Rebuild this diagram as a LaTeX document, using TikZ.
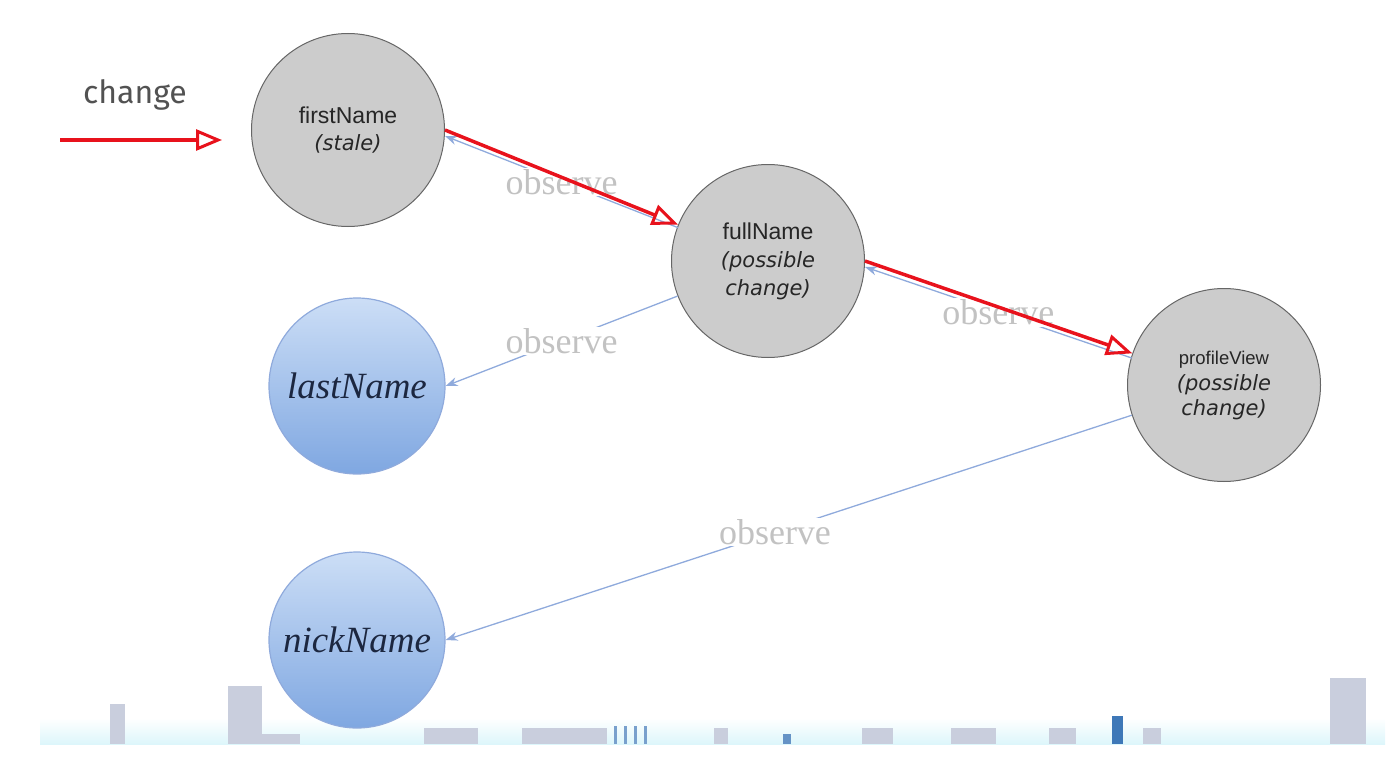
\documentclass[tikz,border=0pt]{standalone}
\usepackage{fontspec}
\setmainfont{Liberation Serif}
\setsansfont{Liberation Sans}
\newfontfamily\changefont{Fira Sans}
\newfontfamily\notefont{DejaVu Sans}
\newcommand{\notetext}{\notefont\itshape\fontsize{21}{30}\selectfont}
\usetikzlibrary{arrows.meta}
\definecolor{flowred}{HTML}{E8121C}
\definecolor{obsblue}{HTML}{8FAADC}
\definecolor{propgray}{HTML}{CCCCCC}
\definecolor{inputtop}{HTML}{CCDEF6}
\definecolor{inputbot}{HTML}{7FA7E1}
\definecolor{inputtext}{HTML}{1C2740}
\definecolor{skyband}{HTML}{DDF6FB}
\definecolor{skyblock}{HTML}{C9CEDD}
\definecolor{skydark}{HTML}{3E78B8}
\tikzset{
  prop/.style   = {circle, draw=black!60, fill=propgray, line width=1pt,
                   minimum size=193pt, inner sep=0pt, align=center,
                   font=\sffamily\fontsize{23}{30}\selectfont, text=black!85},
  input/.style  = {circle, draw=obsblue, line width=1.2pt, top color=inputtop,
                   bottom color=inputbot, minimum size=176pt, inner sep=0pt,
                   font=\itshape\fontsize{37}{40}\selectfont, text=inputtext},
  lab/.style    = {fill=white, inner sep=1.5pt, text=black!24,
                   font=\fontsize{36}{38}\selectfont},
  flow/.style   = {line width=3.5pt, draw=flowred,
                   -{Triangle[open, length=26pt, width=21pt, line width=3pt]}},
  obs/.style    = {line width=1.3pt, draw=obsblue, -{Stealth[length=12pt, width=9pt]}},
}

\begin{document}
\begin{tikzpicture}[x=1pt, y=-1pt]
\useasboundingbox (0,0) rectangle (1400,760);

% faded skyline strip along the bottom edge
\shade [top color=white, bottom color=skyband] (40,718) rectangle (1385,744);
\foreach \xa/\xb/\yt in {110/125/704, 228/262/686, 262/300/734, 424/478/728,
                          522/607/728, 714/728/728, 862/893/728, 951/996/728,
                          1049/1076/728, 1143/1161/728, 1330/1366/678}
  \fill [skyblock] (\xa,\yt) rectangle (\xb,744);
\foreach \xa in {614,624,634,644}
  \fill [skydark!70] (\xa,726) rectangle (\xa+3,744);
\fill [skydark] (1112,716) rectangle (1123,744);
\fill [skydark!80] (783,734) rectangle (791,744);

% properties
\node (fn) [prop]  at (348,130)  {firstName\\[-3pt]{\notetext (stale)}};
\node (fu) [prop]  at (768,261)  {fullName\\[-2pt]{\notetext (possible}\\[-2pt]{\notetext change)}};
\node (pv) [prop, font=\sffamily\fontsize{18.5}{28}\selectfont] at (1224,385)
      {profileView\\[-2pt]{\notetext (possible}\\[-3pt]{\notetext change)}};
\node (ln) [input] at (357,386)  {lastName};
\node (nn) [input] at (357,640)  {nickName};

% outside change
\coordinate (src) at (60,140);
\coordinate (hit) at (222,140);
\node (chg) [font=\changefont\fontsize{32}{34}\selectfont, text=black!68] at (135,95) {change};

% observers (the upper two run under the red arrows)
\draw [obs] ([yshift=-3pt]fu.158) -- node[lab] {observe} ([yshift=-6pt]fn.east);
\draw [obs] (fu) -- node[lab] {observe} (ln.east);
\draw [obs] ([yshift=-3pt]pv.162) -- node[lab] {observe} ([yshift=-6pt]fu.east);
\draw [obs] (pv) -- node[lab, pos=0.52] {observe} (nn.east);

% propagation of the change
\draw [flow] (src) -- (hit);
\draw [flow] (fn.east) -- (fu);
\draw [flow] (fu.east) -- (pv);

\end{tikzpicture}
\end{document}
